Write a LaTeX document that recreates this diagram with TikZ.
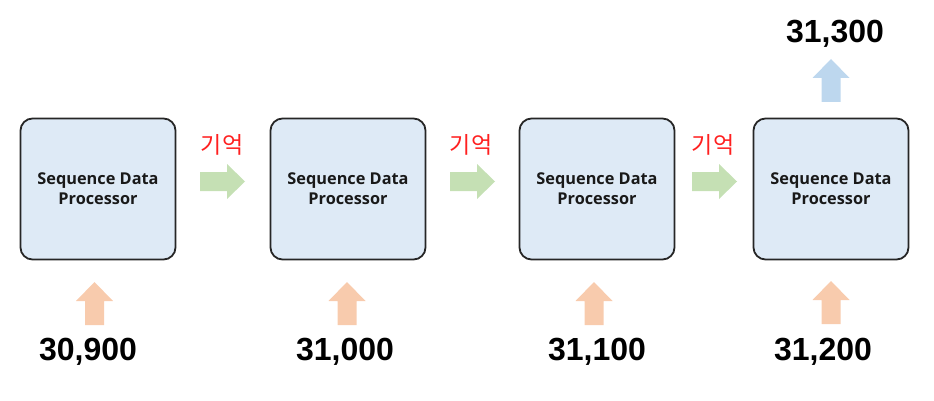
\documentclass[tikz,border=0pt]{standalone}
\usepackage{fontspec}
\setmainfont{Open Sans}
\newfontfamily\numfont{Liberation Sans}
\newfontfamily\krfont{Noto Sans CJK KR}
\definecolor{boxfill}{HTML}{DEEAF6}
\definecolor{boxline}{HTML}{262626}
\definecolor{grarrow}{HTML}{C5E0B4}
\definecolor{orarrow}{HTML}{F8CBAD}
\definecolor{blarrow}{HTML}{BDD7EE}
\definecolor{memred}{HTML}{FF2020}
\newcommand\rightblock[2]{% x0, fill
  \fill[#2] (#1,172) -- ++(27,0) -- ++(0,-8) -- ++(18,17.5) -- ++(-18,17.5) -- ++(0,-8) -- ++(-27,0) -- cycle;}
\newcommand\upblock[4]{% center x, tip y, bottom y, fill
  \fill[#4] (#1,#2) -- ++(18.5,19) -- ++(-9,0) -- (#1+9.5,#3) -- (#1-9.5,#3) -- (#1-9.5,#2+19) -- ++(-9,0) -- cycle;}
\begin{document}
\begin{tikzpicture}[x=1pt,y=-1pt,
  procbox/.style={draw=boxline, line width=1.8pt, fill=boxfill, rounded corners=12pt,
    minimum width=155pt, minimum height=141pt, inner sep=0pt, align=center,
    font=\fontsize{16.3}{20}\bfseries\selectfont, text=black!90},
  numlabel/.style={font=\numfont\fontsize{32}{38}\bfseries\selectfont, inner sep=0pt},
  memlabel/.style={font=\krfont\fontsize{23}{26}\selectfont, text=memred, inner sep=0pt}]
\useasboundingbox (0,0) rectangle (934,401);
% boxes
\node[procbox] (p1) at (98,189) {Sequence Data\\Processor};
\node[procbox] (p2) at (348,189) {Sequence Data\\Processor};
\node[procbox] (p3) at (597,189) {Sequence Data\\Processor};
\node[procbox] (p4) at (831,189) {Sequence Data\\Processor};
% memory arrows
\rightblock{200}{grarrow}
\rightblock{450}{grarrow}
\rightblock{692}{grarrow}
\node[memlabel] (m1) at (222,145) {기억};
\node[memlabel] (m2) at (471,145) {기억};
\node[memlabel] (m3) at (713,145) {기억};
% input arrows
\upblock{94.5}{282}{325}{orarrow}
\upblock{347}{282}{325}{orarrow}
\upblock{594}{282}{325}{orarrow}
\upblock{831}{281}{324}{orarrow}
\node[numlabel] (n1) at (88,352) {30,900};
\node[numlabel] (n2) at (345,352) {31,000};
\node[numlabel] (n3) at (597,352) {31,100};
\node[numlabel] (n4) at (823,352) {31,200};
% output
\upblock{831}{59}{102}{blarrow}
\node[numlabel] (out) at (835,34) {31,300};
\end{tikzpicture}
\end{document}
